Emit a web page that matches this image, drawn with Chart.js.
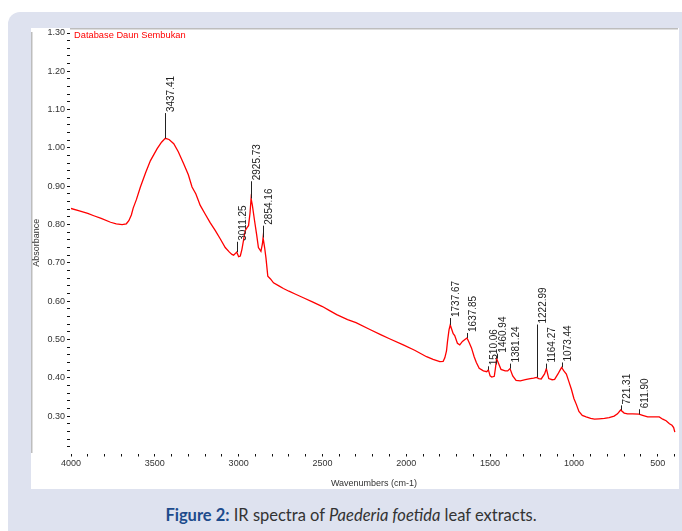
<!DOCTYPE html>
<html>
<head>
<meta charset="utf-8">
<title>IR spectra of Paederia foetida</title>
<script src="https://cdn.jsdelivr.net/npm/chart.js@4.4.1/dist/chart.umd.min.js"></script>
<style>
  html, body { margin: 0; padding: 0; background: #fff; }
  body { width: 682px; height: 531px; position: relative; overflow: hidden; }
  #panel { position: absolute; left: 8px; top: 12px; right: 0; bottom: 0; background: #dee2ef; border-top-left-radius: 12px; }
  #plot { position: absolute; left: 31px; top: 28px; width: 648px; height: 461px; background: #fff; }
  #plot canvas { position: absolute; left: 0; top: 0; }
  #note { position: absolute; left: 74px; top: 30px; font: 9.3px "Liberation Sans", Arial, sans-serif; color: #ff0000; white-space: nowrap; }
  #caption { position: absolute; left: 0; width: 702px; top: 505px; text-align: center; font: 16.5px Lato, "Open Sans", sans-serif; color: #333; white-space: nowrap; }
  #caption b { color: #1d4b8c; }
</style>
</head>
<body>
<div id="panel"></div>
<div id="plot"><canvas id="chart" width="648" height="461"></canvas></div>
<div id="note">Database Daun Sembukan</div>
<div id="caption"><b>Figure 2:</b> IR spectra of <i>Paederia foetida</i> leaf extracts.</div>
<script>
// spectrum (cm-1 / absorbance)
const wavenumbers = [
  4000, 3950, 3900, 3864, 3820, 3764, 3730, 3695, 3670, 3655, 3640, 3629, 3610, 3586, 3555, 3526,
  3486, 3460, 3437.41, 3415, 3387, 3360, 3328, 3300, 3278, 3255, 3229, 3199, 3170, 3139, 3110, 3080,
  3055, 3040, 3030, 3011.25, 3000, 2990, 2980, 2961, 2950, 2941, 2932, 2925.73, 2918, 2905, 2893, 2882,
  2867, 2858, 2854.16, 2845, 2837, 2826, 2810, 2792, 2760, 2733, 2700, 2660, 2614, 2560, 2500, 2460,
  2415, 2350, 2300, 2217, 2150, 2100, 2018, 1950, 1879, 1840, 1800, 1780, 1770, 1760, 1754, 1745,
  1737.67, 1730, 1720, 1711, 1695, 1681, 1665, 1650, 1637.85, 1625, 1611, 1595, 1582, 1565, 1540, 1520,
  1510.06, 1500, 1490, 1475, 1468, 1460.94, 1450, 1435, 1410, 1395, 1381.24, 1365, 1345, 1320, 1290, 1260,
  1240, 1222.99, 1210, 1195, 1175, 1164.27, 1150, 1130, 1115, 1095, 1085, 1073.44, 1060, 1045, 1030, 1015,
  1000, 985, 970, 950, 927, 900, 877, 850, 818, 790, 760, 740, 721.31, 700, 680, 650,
  611.90, 590, 560, 520, 491, 470, 450, 430, 415, 405, 398
];
const absorbance = [
  0.842, 0.836, 0.829, 0.823, 0.816, 0.806, 0.802, 0.800, 0.802, 0.810, 0.825, 0.843, 0.865, 0.898, 0.935, 0.967,
  0.998, 1.015, 1.025, 1.022, 1.011, 0.990, 0.959, 0.930, 0.898, 0.880, 0.850, 0.827, 0.805, 0.784, 0.763, 0.740,
  0.728, 0.722, 0.720, 0.728, 0.716, 0.718, 0.736, 0.784, 0.792, 0.797, 0.830, 0.868, 0.850, 0.810, 0.775, 0.740,
  0.730, 0.750, 0.766, 0.740, 0.713, 0.665, 0.658, 0.648, 0.640, 0.633, 0.626, 0.618, 0.609, 0.598, 0.586, 0.576,
  0.565, 0.552, 0.544, 0.526, 0.512, 0.502, 0.486, 0.472, 0.455, 0.448, 0.442, 0.443, 0.452, 0.470, 0.495, 0.525,
  0.538, 0.528, 0.515, 0.510, 0.490, 0.486, 0.495, 0.500, 0.504, 0.492, 0.478, 0.455, 0.440, 0.425, 0.418, 0.416,
  0.421, 0.405, 0.402, 0.404, 0.425, 0.450, 0.438, 0.422, 0.418, 0.418, 0.424, 0.405, 0.393, 0.392, 0.395, 0.398,
  0.399, 0.401, 0.398, 0.397, 0.410, 0.424, 0.398, 0.395, 0.396, 0.410, 0.418, 0.427, 0.418, 0.410, 0.390, 0.370,
  0.346, 0.330, 0.312, 0.302, 0.298, 0.294, 0.292, 0.293, 0.294, 0.296, 0.300, 0.306, 0.316, 0.308, 0.306, 0.306,
  0.305, 0.302, 0.298, 0.298, 0.298, 0.292, 0.288, 0.280, 0.276, 0.270, 0.258
];

// labelled peaks and the absorbance where each marker line ends
const peakWavenumbers = [3437.41, 3011.25, 2925.73, 2854.16, 1737.67, 1637.85, 1510.06, 1460.94, 1381.24, 1222.99, 1164.27, 1073.44, 721.31, 611.90];
const peakLabels = ['3437.41', '3011.25', '2925.73', '2854.16', '1737.67', '1637.85', '1510.06', '1460.94', '1381.24', '1222.99', '1164.27', '1073.44', '721.31', '611.90'];
const peakTops = [1.091, 0.755, 0.913, 0.797, 0.556, 0.517, 0.430, 0.463, 0.437, 0.539, 0.437, 0.440, 0.328, 0.318];

const xTickValues = [];
for (let v = 4000; v >= 400; v -= 100) xTickValues.push(v);
const yTickValues = [];
for (let i = 11; i <= 65; i++) yTickValues.push(i / 50);

function absorbanceAt(wn) {
  for (let i = 0; i < wavenumbers.length - 1; i++) {
    const a = wavenumbers[i], b = wavenumbers[i + 1];
    if (wn <= a && wn >= b) {
      const t = (a - wn) / (a - b);
      return absorbance[i] + t * (absorbance[i + 1] - absorbance[i]);
    }
  }
  return absorbance[absorbance.length - 1];
}

// marker lines + rotated peak labels
const peakLabelPlugin = {
  id: 'peakLabels',
  afterDatasetsDraw(chart) {
    const ctx = chart.ctx;
    const xs = chart.scales.x, ys = chart.scales.y;
    ctx.save();
    ctx.strokeStyle = '#222';
    ctx.fillStyle = '#222';
    ctx.lineWidth = 1;
    ctx.font = '10px "Liberation Sans", Arial, sans-serif';
    peakWavenumbers.forEach((wn, i) => {
      const x = Math.round(xs.getPixelForValue(wn)) + 0.5;
      const yBase = ys.getPixelForValue(absorbanceAt(wn));
      const yTop = ys.getPixelForValue(peakTops[i]);
      ctx.beginPath();
      ctx.moveTo(x, yBase);
      ctx.lineTo(x, yTop);
      ctx.stroke();
      ctx.save();
      ctx.translate(x + 6, yTop - 1);
      ctx.rotate(-Math.PI / 2);
      ctx.textAlign = 'left';
      ctx.textBaseline = 'middle';
      ctx.fillText(peakLabels[i], 0, 0);
      ctx.restore();
    });
    ctx.restore();
  }
};

const tickFont = { family: '"Liberation Sans", Arial, sans-serif', size: 9 };

new Chart(document.getElementById('chart').getContext('2d'), {
  type: 'line',
  data: {
    datasets: [{
      data: wavenumbers.map((wn, i) => ({ x: wn, y: absorbance[i] })),
      borderColor: '#ff0000',
      borderWidth: 1.3,
      pointRadius: 0,
      tension: 0
    }]
  },
  options: {
    responsive: false,
    animation: false,
    layout: { padding: { top: 5, right: 2, left: 0, bottom: 0 } },
    plugins: {
      legend: { display: false },
      tooltip: { enabled: false }
    },
    scales: {
      x: {
        type: 'linear',
        reverse: true,
        min: 385,
        max: 4000,
        afterBuildTicks: (scale) => { scale.ticks = xTickValues.map(v => ({ value: v })); },
        afterFit: (scale) => {
          scale.height = 36.5;
          scale.paddingLeft = 0;
          scale.paddingRight = 0;
        },
        ticks: {
          autoSkip: false,
          maxRotation: 0,
          padding: 2,
          color: '#333',
          font: tickFont,
          callback: (v) => (v % 500 === 0 ? String(v) : '')
        },
        grid: { drawOnChartArea: false, color: '#111', tickLength: 4 },
        border: { color: '#bdbdbd', width: 3, z: -2 },
        title: { display: true, text: 'Wavenumbers (cm-1)', color: '#333', font: tickFont, padding: { top: 2, bottom: 0 } }
      },
      y: {
        min: 0.205,
        max: 1.30,
        afterBuildTicks: (scale) => { scale.ticks = yTickValues.map(v => ({ value: v })); },
        afterFit: (scale) => {
          scale.width = 40;
          scale.paddingTop = 0;
          scale.paddingBottom = 0;
        },
        ticks: {
          autoSkip: false,
          padding: 2,
          color: '#333',
          font: tickFont,
          callback: (v) => {
            const k = Math.round(v * 100);
            return (k % 10 === 0 && k >= 30) ? (k / 100).toFixed(2) : '';
          }
        },
        grid: { drawOnChartArea: false, color: '#111', tickLength: 4 },
        border: { color: '#bdbdbd', width: 3, z: -2 },
        title: { display: true, text: 'Absorbance', color: '#333', font: tickFont, padding: 0 }
      }
    }
  },
  plugins: [peakLabelPlugin]
});
</script>
</body>
</html>
